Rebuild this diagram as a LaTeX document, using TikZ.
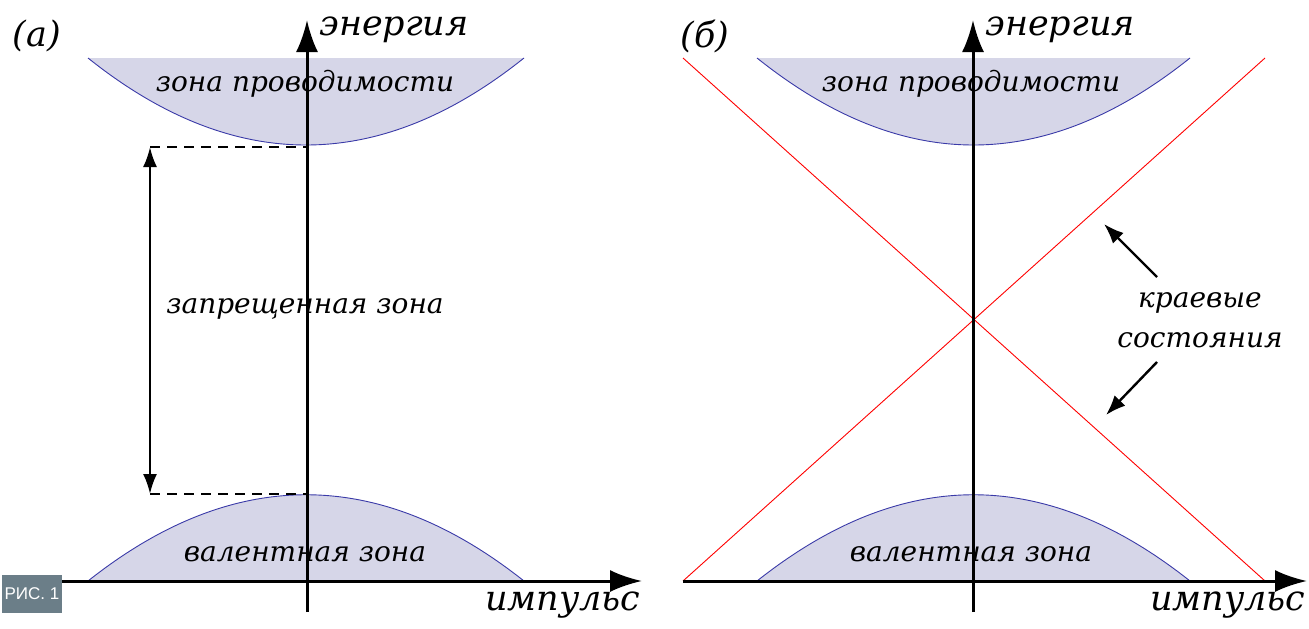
\documentclass[tikz,border=0pt]{standalone}
\usepackage{fontspec}
\setmainfont{DejaVu Serif}
\setsansfont{Liberation Sans}
\usetikzlibrary{arrows.meta}
\definecolor{bandfill}{HTML}{D6D6E8}
\definecolor{bandline}{HTML}{3A3AA8}
\definecolor{tagfill}{HTML}{6B7E88}
\begin{document}
\begin{tikzpicture}[x=1pt,y=-1pt,
    axis/.style={line width=3pt,-{Latex[length=32pt,width=22pt]}},
    edge/.style={draw=bandline,line width=0.9pt},
    lbl/.style={font=\itshape\fontsize{28}{40}\selectfont},
    biglbl/.style={font=\itshape\fontsize{35}{40}\selectfont},
    pointer/.style={line width=2.4pt,-{Latex[length=20pt,width=15pt]}}]
    \useasboundingbox (0,0) rectangle (1309,629);

    % (a) зоны
    \fill[bandfill] (88,58) .. controls (233,174) and (379,174) .. (524,58) -- cycle;
    \draw[edge] (88,58) .. controls (233,174) and (379,174) .. (524,58);
    \fill[bandfill] (88,581) .. controls (233,466) and (379,466) .. (524,581) -- cycle;
    \draw[edge] (88,581) .. controls (233,466) and (379,466) .. (524,581);

    \coordinate (a-x0) at (62,581);
    \coordinate (a-x1) at (642,581);
    \coordinate (a-y0) at (307,612);
    \coordinate (a-y1) at (307,20);
    \draw[axis] (a-x0) -- (a-x1);
    \draw[axis] (a-y0) -- (a-y1);

    \coordinate (gap-top) at (150,147);
    \coordinate (gap-bot) at (150,494);
    \coordinate (gap-topaxis) at (307,147);
    \coordinate (gap-botaxis) at (307,494);
    \draw[line width=2.8pt,dash pattern=on 10pt off 7pt] (gap-top) -- (gap-topaxis);
    \draw[line width=2.8pt,dash pattern=on 10pt off 7pt] (gap-bot) -- (gap-botaxis);
    \draw[line width=2.4pt,{Latex[length=20pt,width=14pt]}-{Latex[length=20pt,width=14pt]}] (gap-top) -- (gap-bot);

    \node[biglbl] (a-tag) at (37,36) {(а)};
    \node[biglbl,right] (a-energy) at (316,30) {энергия};
    \node[biglbl,left] (a-momentum) at (644,605) {импульс};
    \node[lbl] (a-cond) at (305,84) {зона проводимости};
    \node[lbl] (a-gap) at (305,309) {запрещенная зона};
    \node[lbl] (a-val) at (305,554) {валентная зона};

    \node[fill=tagfill,text=white,font=\sffamily\fontsize{17}{19}\selectfont,
      minimum width=60pt,minimum height=38pt,inner sep=0pt] (fig-tag) at (32,594) {РИС. 1};

    % (б) зоны и краевые состояния
    \fill[bandfill] (757,58) .. controls (902,174) and (1045,174) .. (1190,58) -- cycle;
    \draw[edge] (757,58) .. controls (902,174) and (1045,174) .. (1190,58);
    \fill[bandfill] (757,581) .. controls (902,466) and (1045,466) .. (1190,581) -- cycle;
    \draw[edge] (757,581) .. controls (902,466) and (1045,466) .. (1190,581);

    \coordinate (edge-lt) at (683,58);
    \coordinate (edge-rb) at (1265,581);
    \coordinate (edge-lb) at (683,581);
    \coordinate (edge-rt) at (1265,58);
    \draw[red,line width=0.9pt] (edge-lt) -- (edge-rb);
    \draw[red,line width=0.9pt] (edge-lb) -- (edge-rt);

    \coordinate (b-x0) at (683,581);
    \coordinate (b-x1) at (1307,581);
    \coordinate (b-y0) at (973,612);
    \coordinate (b-y1) at (973,20);
    \draw[axis] (b-x0) -- (b-x1);
    \draw[axis] (b-y0) -- (b-y1);

    \node[biglbl] (b-tag) at (705,36) {(б)};
    \node[biglbl,right] (b-energy) at (982,30) {энергия};
    \node[biglbl,left] (b-momentum) at (1309,605) {импульс};
    \node[lbl] (b-cond) at (971,84) {зона проводимости};
    \node[lbl] (b-val) at (971,554) {валентная зона};

    \node[lbl,align=center] (edge-lbl) at (1200,320) {краевые\\состояния};
    \coordinate (ptr-up) at (1104,224);
    \coordinate (ptr-down) at (1106,415);
    \draw[pointer] (1157,277) -- (ptr-up);
    \draw[pointer] (1157,362) -- (ptr-down);
\end{tikzpicture}
\end{document}
